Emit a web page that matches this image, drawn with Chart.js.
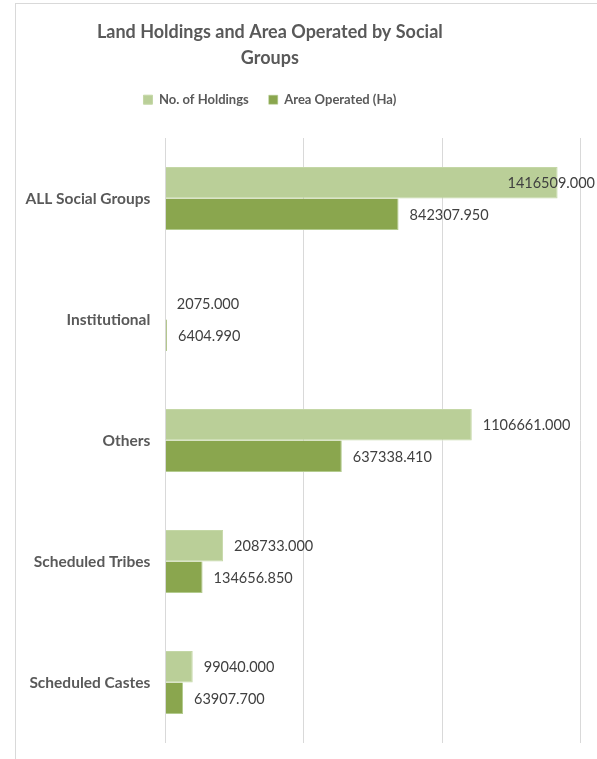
<!DOCTYPE html>
<html>
<head>
<meta charset="utf-8">
<script src="https://cdn.jsdelivr.net/npm/chart.js@4.4.1/dist/chart.umd.min.js"></script>
<style>
    html, body { margin: 0; padding: 0; background: #fff; overflow: hidden; }
    body { width: 597px; height: 759px; position: relative; }
    #frame { position: absolute; left: 15px; top: 3px; width: 700px; height: 800px; border: 1px solid #d9d9d9; }
    #chart { position: absolute; left: -41px; top: 0; }
</style>
</head>
<body>
<div id="frame"></div>
<canvas id="chart" width="638" height="759"></canvas>
<script>
// Categories, top to bottom as shown
const groups = ['ALL Social Groups', 'Institutional', 'Others', 'Scheduled Tribes', 'Scheduled Castes'];
const holdings = [1416509.000, 2075.000, 1106661.000, 208733.000, 99040.000];
const areaOperated = [842307.950, 6404.990, 637338.410, 134656.850, 63907.700];
const xTicks = [0, 500000, 1000000, 1500000];

const FONT = 'Lato, "Open Sans", sans-serif';

// value labels at the end of each bar (kept inside the frame like Excel does)
const valueLabels = {
    id: 'valueLabels',
    afterDatasetsDraw(chart) {
        const ctx = chart.ctx;
        ctx.save();
        ctx.font = `14.5px ${FONT}`;
        ctx.fillStyle = '#404040';
        ctx.textBaseline = 'middle';
        chart.data.datasets.forEach((ds, i) => {
            chart.getDatasetMeta(i).data.forEach((bar, j) => {
                const text = ds.data[j].toFixed(3);
                const w = ctx.measureText(text).width;
                const x = Math.min(bar.x + 11, chart.width - 2 - w);
                ctx.fillText(text, x, bar.y + 1);
            });
        });
        ctx.restore();
    }
};

new Chart(document.getElementById('chart'), {
    type: 'bar',
    data: {
        labels: groups,
        datasets: [
            { label: 'No. of Holdings', data: holdings, backgroundColor: '#bacf98', borderColor: '#c4d7a6', borderWidth: 1 },
            { label: 'Area Operated (Ha)', data: areaOperated, backgroundColor: '#8aa64e', borderColor: '#b3cb8e', borderWidth: { right: 1, bottom: 1 } }
        ]
    },
    options: {
        indexAxis: 'y',
        responsive: false,
        animation: false,
        devicePixelRatio: 1,
        layout: { padding: { left: 0, right: 16.3, top: 0, bottom: 16 } },
        datasets: { bar: { categoryPercentage: 0.522, barPercentage: 1 } },
        scales: {
            x: {
                position: 'top',
                min: xTicks[0],
                max: xTicks[xTicks.length - 1],
                afterBuildTicks: (scale) => { scale.ticks = xTicks.map(v => ({ value: v })); },
                afterFit: (scale) => { scale.height = 21.8; },
                ticks: { display: false },
                grid: { color: '#d9d9d9', lineWidth: 1, drawTicks: false },
                border: { display: false }
            },
            y: {
                afterFit: (scale) => {
                    scale.width = 206.3;
                    scale.paddingTop = 0;
                    scale.paddingBottom = 0;
                },
                grid: { display: false, drawTicks: false },
                border: { display: false },
                ticks: { padding: 15, color: '#595959', font: { family: FONT, size: 15.5, weight: 'bold' } }
            }
        },
        plugins: {
            title: {
                display: true,
                text: ['Land Holdings and Area Operated by Social', 'Groups'],
                color: '#595959',
                font: { family: FONT, size: 18, weight: 'bold', lineHeight: 1.45 },
                padding: { top: 19, bottom: 2 }
            },
            legend: {
                position: 'top',
                labels: {
                    boxWidth: 9,
                    boxHeight: 9,
                    padding: 20,
                    color: '#595959',
                    font: { family: FONT, size: 13, weight: 'bold' }
                }
            },
            tooltip: { enabled: false }
        }
    },
    plugins: [valueLabels]
});
</script>
</body>
</html>
